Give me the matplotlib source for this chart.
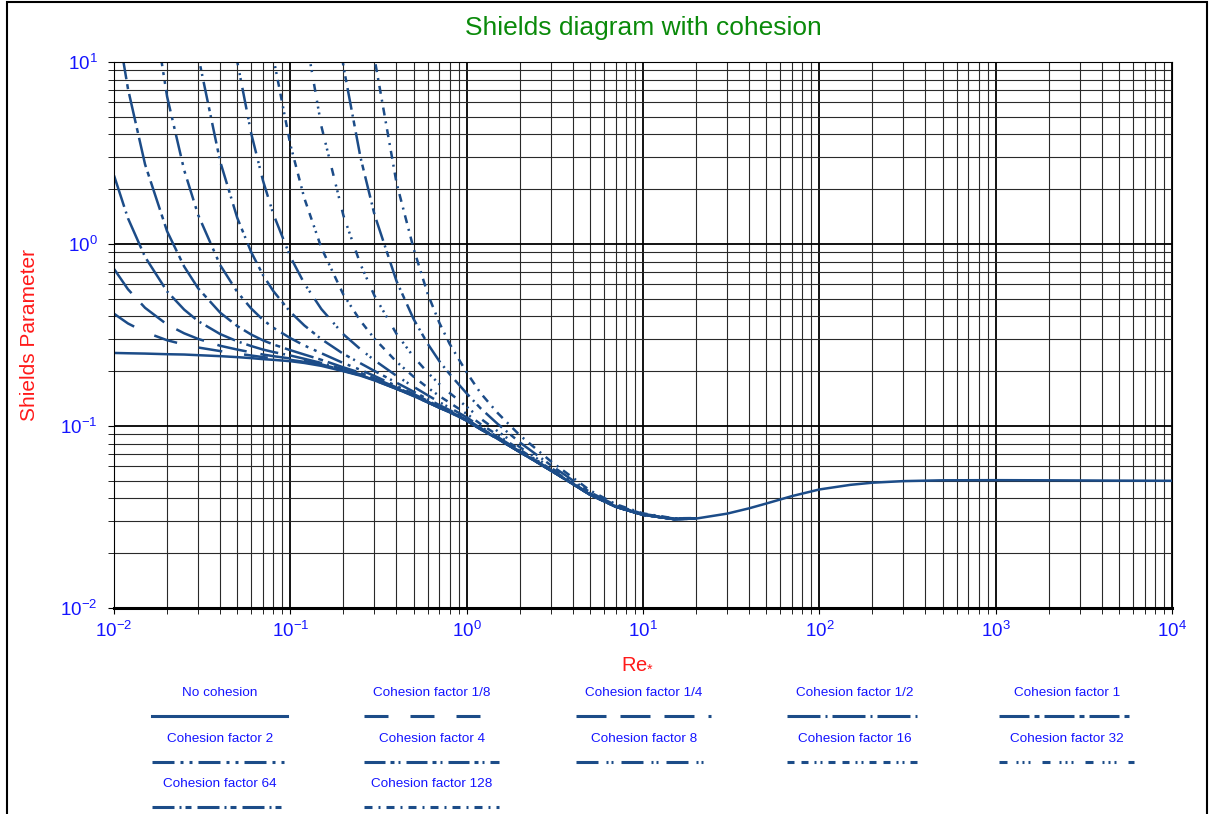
import matplotlib
matplotlib.use("Agg")
import matplotlib.pyplot as plt
from matplotlib.ticker import LogLocator, NullFormatter
from matplotlib.patches import Rectangle

# Re* values shared by all curves (cohesion curves use the tail of this list)
re_grid = [0.01, 0.012, 0.015, 0.02, 0.025, 0.03, 0.04, 0.05, 0.06, 0.07, 0.08,
           0.1, 0.12, 0.15, 0.2, 0.25, 0.3, 0.4, 0.5, 0.6, 0.7, 0.8, 1.0, 1.2,
           1.5, 2, 3, 5, 7, 10, 15, 20]
re_far = [30, 40, 50, 70, 100, 150, 200, 300, 500, 1000, 2000, 5000, 10000]

theta_none = [0.252, 0.251, 0.250, 0.248, 0.247, 0.245, 0.242, 0.239, 0.236, 0.233, 0.231,
              0.227, 0.222, 0.214, 0.200, 0.189, 0.178, 0.160, 0.146, 0.135, 0.126, 0.119,
              0.107, 0.096, 0.085, 0.072, 0.057, 0.042, 0.036, 0.0325, 0.0308, 0.031]
theta_none_far = [0.033, 0.0353, 0.0375, 0.0412, 0.0448, 0.0475, 0.0488, 0.0498, 0.0503,
                  0.0504, 0.0503, 0.0501, 0.050]

theta_1_8 = [0.414, 0.366, 0.328, 0.296, 0.280, 0.270, 0.258, 0.250, 0.244, 0.239, 0.236,
             0.231, 0.225, 0.216, 0.201, 0.190, 0.1785, 0.160, 0.146, 0.135, 0.126, 0.119,
             0.107, 0.096, 0.085, 0.072, 0.057, 0.042, 0.036, 0.0325, 0.0308, 0.031]
theta_1_4 = [0.730, 0.564, 0.446, 0.361, 0.323, 0.301, 0.276, 0.263, 0.254, 0.247, 0.242,
             0.235, 0.228, 0.218, 0.2025, 0.1905, 0.179, 0.1607, 0.1464, 0.1353, 0.1262, 0.1192,
             0.1071, 0.096, 0.085, 0.072, 0.057, 0.042, 0.036, 0.0325, 0.0308, 0.031]
theta_1_2 = [2.38, 1.385, 0.849, 0.549, 0.436, 0.377, 0.320, 0.292, 0.275, 0.263, 0.255,
             0.244, 0.234, 0.222, 0.205, 0.192, 0.1805, 0.1614, 0.1469, 0.1357, 0.1265, 0.1194,
             0.1072, 0.0962, 0.0851, 0.072, 0.057, 0.042, 0.036, 0.0325, 0.0308, 0.031]
theta_1 = [20.5, 7.13, 2.74, 1.175, 0.752, 0.571, 0.4195, 0.354, 0.318, 0.2955, 0.2806,
           0.261, 0.247, 0.231, 0.210, 0.196, 0.183, 0.163, 0.148, 0.136, 0.127, 0.1197,
           0.1075, 0.0963, 0.0852, 0.0721, 0.057, 0.042, 0.036, 0.0325, 0.0308, 0.031]
theta_2 = [37.8, 6.46, 2.545, 1.445, 0.766, 0.545, 0.442, 0.383, 0.347, 0.304, 0.277, 0.251,
           0.2217, 0.2035, 0.1883, 0.1659, 0.1499, 0.1377, 0.128, 0.1205, 0.108, 0.0967,
           0.0854, 0.0722, 0.0571, 0.042, 0.036, 0.0325, 0.0308, 0.031]
theta_4 = [36, 10.85, 2.84, 1.392, 0.902, 0.675, 0.552, 0.423, 0.357, 0.300, 0.249, 0.221,
           0.2007, 0.173, 0.1544, 0.1408, 0.1303, 0.1223, 0.1091, 0.0974, 0.0859, 0.0725,
           0.0572, 0.0421, 0.036, 0.0325, 0.0308, 0.031]
theta_8 = [45, 10.05, 4.05, 2.226, 1.465, 0.851, 0.607, 0.439, 0.319, 0.264, 0.2296, 0.1887,
           0.1643, 0.1477, 0.1353, 0.1262, 0.1116, 0.0991, 0.087, 0.0731, 0.0575, 0.0422,
           0.0361, 0.0325, 0.0308, 0.031]
theta_16 = [25, 10.66, 3.52, 1.787, 0.952, 0.527, 0.378, 0.302, 0.2254, 0.1866, 0.1627,
            0.1461, 0.1343, 0.1167, 0.1025, 0.0891, 0.0742, 0.058, 0.0423, 0.0362, 0.0326,
            0.0308, 0.031]
theta_32 = [59, 15.35, 4.435, 1.433, 0.773, 0.520, 0.321, 0.240, 0.197, 0.170, 0.152, 0.1276,
            0.1098, 0.0936, 0.0766, 0.059, 0.0427, 0.0363, 0.0327, 0.0309, 0.031]
theta_64 = [81, 9.47, 2.99, 1.453, 0.626, 0.387, 0.284, 0.227, 0.193, 0.151, 0.125, 0.1026,
            0.0813, 0.0609, 0.0433, 0.0367, 0.0329, 0.031, 0.0311]
theta_128 = [34, 10.5, 2.17, 0.944, 0.535, 0.369, 0.283, 0.197, 0.1515, 0.1178, 0.089, 0.064,
             0.0443, 0.0372, 0.0331, 0.0311, 0.0312]

labels = ['No cohesion', 'Cohesion factor 1/8', 'Cohesion factor 1/4', 'Cohesion factor 1/2',
          'Cohesion factor 1', 'Cohesion factor 2', 'Cohesion factor 4', 'Cohesion factor 8',
          'Cohesion factor 16', 'Cohesion factor 32', 'Cohesion factor 64', 'Cohesion factor 128']
curves = [theta_none, theta_1_8, theta_1_4, theta_1_2, theta_1, theta_2, theta_4, theta_8,
          theta_16, theta_32, theta_64, theta_128]

# dash patterns in pixels (on, off, on, off ...)
patterns = [None, (24, 22), (30, 14), (33, 5, 2, 5), (30, 5, 5, 5),
            (22, 6, 3, 6, 3, 6), (21, 5, 4, 4, 2, 6), (22, 8, 2, 3, 2, 8),
            (7, 7, 7, 6, 2, 4, 2, 6), (8, 9, 2, 4, 2, 4, 2, 12),
            (22, 5, 2, 4, 6, 6), (8, 6, 2, 6)]

W, H, DPI = 1210, 814, 100
PX = 72 / DPI
LINE = '#1c4c88'
BLUE = '#1414ff'

plt.rcParams['font.family'] = ['Liberation Sans', 'DejaVu Sans']
plt.rcParams['mathtext.default'] = 'regular'
plt.rcParams['axes.unicode_minus'] = False
plt.rcParams['lines.scale_dashes'] = False

fig = plt.figure(figsize=(W / DPI, H / DPI), dpi=DPI)
ax = fig.add_axes([114 / W, 1 - 608 / H, (1172 - 114) / W, (608 - 62) / H])


def style(p):
    if p is None:
        return {'linestyle': '-'}
    return {'dashes': [v * PX for v in p]}


for vals, pat in zip(curves, patterns):
    xs = re_grid[-len(vals):]
    if pat is None:
        xs = xs + re_far
        vals = vals + theta_none_far
    ax.plot(xs, vals, color=LINE, lw=1.8, **style(pat))

ax.set_xscale('log')
ax.set_yscale('log')
ax.set_xlim(1e-2, 1e4)
ax.set_ylim(1e-2, 1e1)
ax.xaxis.set_minor_locator(LogLocator(base=10, subs=range(2, 10), numticks=50))
ax.yaxis.set_minor_locator(LogLocator(base=10, subs=range(2, 10), numticks=50))
ax.xaxis.set_minor_formatter(NullFormatter())
ax.yaxis.set_minor_formatter(NullFormatter())
ax.grid(True, which='major', color='black', lw=1.3)
ax.grid(True, which='minor', color='#2a2a2a', lw=0.8)
ax.set_axisbelow(True)
ax.tick_params(which='both', direction='out', length=4, color='black',
               labelcolor=BLUE, labelsize=13.5)
ax.tick_params(axis='x', pad=5)
ax.tick_params(axis='y', pad=8)
for s in ax.spines.values():
    s.set_color('black')
ax.spines['bottom'].set_linewidth(2.2)

fig.text(643 / W, 1 - 28 / H, 'Shields diagram with cohesion', color='#0a8a0a',
         fontsize=19, ha='center', va='center')
fig.text(30 / W, 1 - 335 / H, 'Shields Parameter', color='#ff1a1a', fontsize=15,
         rotation=90, ha='center', va='center')
fig.text(638 / W, 1 - 662 / H, 'Re$_{*}$', color='#ff1a1a', fontsize=14.5,
         ha='center', va='center')

# legend: text above a line sample, 5 columns
leg = fig.add_axes([0, 0, 1, 1])
leg.set_xlim(0, W)
leg.set_ylim(H, 0)
leg.axis('off')
col_x = [220, 432, 644, 855, 1067]
row_y = [693, 739, 784]
for i, (lab, pat) in enumerate(zip(labels, patterns)):
    cx = col_x[i % 5]
    ty = row_y[i // 5]
    leg.text(cx, ty, lab, color=BLUE, fontsize=9.7, ha='center', va='center')
    leg.plot([cx - 68, cx + 67], [ty + 23, ty + 23], color=LINE, lw=2.2, **style(pat))

fig.patches.append(Rectangle((7 / W, -0.01), 1200 / W, 1.01 - 2 / H, transform=fig.transFigure,
                             fill=False, edgecolor='black', lw=1.5))

fig.savefig('out.png', dpi=DPI)
